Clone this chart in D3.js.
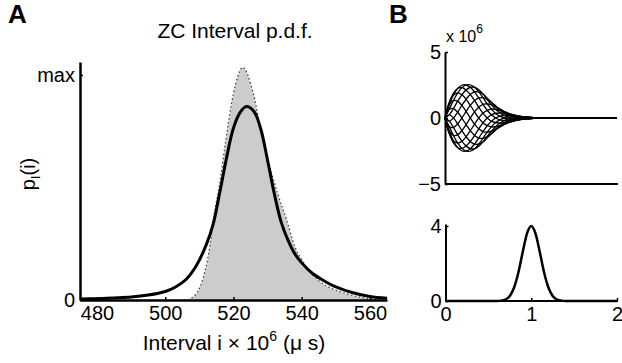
<!DOCTYPE html>
<html>
<head>
<meta charset="utf-8">
<script src="https://cdn.jsdelivr.net/npm/d3@7/dist/d3.min.js"></script>
<style>
  html, body { margin: 0; padding: 0; background: #fff; }
  svg { display: block; font-family: "Liberation Sans", Arial, Helvetica, sans-serif; }
  .ax path.domain { stroke: #000; }
  .ax line { stroke: #000; stroke-width: 1.5; }
  .ax text { fill: #000; }
</style>
</head>
<body>
<svg id="chart" width="622" height="363"></svg>
<script>
// ---------- Panel A data (interval p.d.f., normalised so "max" = 1) ----------
const intervalTicks = [480, 500, 520, 540, 560];
const pdfTickValues = [0, 1];
const pdfTickLabels = ["0", "max"];

// empirical histogram (grey, dotted outline)
const histInterval = [475, 506, 508, 510, 511.7, 513.2, 514.1, 516.1, 517.6, 520, 522.7, 525.8, 528.8, 531.2, 533, 535.6, 538, 540, 542.5, 545.5, 549, 553.3, 557, 561, 565];
const histDensity  = [0, 0, 0.012, 0.052, 0.133, 0.252, 0.356, 0.533, 0.696, 0.918, 1.034, 0.918, 0.696, 0.563, 0.47, 0.356, 0.237, 0.18, 0.125, 0.08, 0.05, 0.027, 0.013, 0.005, 0];

// model p.d.f. (solid black)
const modelInterval = [475, 480, 485, 490, 495, 500, 503, 506, 509, 512, 514, 516, 518, 520, 522, 523.8, 526, 528, 530, 532, 534, 536, 538, 540, 543, 546, 550, 555, 560, 565];
const modelDensity  = [0.004, 0.006, 0.009, 0.013, 0.022, 0.038, 0.058, 0.09, 0.15, 0.245, 0.335, 0.48, 0.635, 0.765, 0.835, 0.86, 0.838, 0.76, 0.62, 0.47, 0.345, 0.265, 0.205, 0.165, 0.12, 0.09, 0.058, 0.032, 0.016, 0.008];

// ---------- Panel B top data (family of kernels, units of 10^6) ----------
const kernelTime = [0, 0.05, 0.1, 0.15, 0.2, 0.25, 0.3, 0.35, 0.4, 0.45, 0.5, 0.55, 0.6, 0.65, 0.7, 0.75, 0.8, 0.85, 0.9, 0.95, 1.0, 1.1, 2.0];
const kernel00 = [0, 1.18, 1.75, 1.90, 1.74, 1.38, 0.91, 0.40, -0.06, -0.41, -0.60, -0.68, -0.63, -0.56, -0.44, -0.33, -0.23, -0.15, -0.10, -0.06, -0.03, 0, 0];
const kernel01 = [0, 1.00, 1.33, 1.26, 0.92, 0.45, -0.05, -0.52, -0.86, -1.05, -1.06, -0.98, -0.81, -0.64, -0.47, -0.32, -0.21, -0.13, -0.07, -0.04, -0.02, 0, 0];
const kernel02 = [0, 0.66, 0.71, 0.42, -0.04, -0.54, -1.01, -1.36, -1.53, -1.53, -1.36, -1.14, -0.86, -0.63, -0.42, -0.26, -0.15, -0.08, -0.04, -0.01, 0.00, 0, 0];
const kernel03 = [0, 0.23, -0.01, -0.47, -0.99, -1.46, -1.81, -1.99, -1.96, -1.78, -1.45, -1.12, -0.78, -0.52, -0.31, -0.17, -0.08, -0.02, 0.01, 0.02, 0.02, 0, 0];
const kernel04 = [0, -0.24, -0.74, -1.30, -1.79, -2.15, -2.33, -2.32, -2.10, -1.75, -1.32, -0.93, -0.58, -0.34, -0.16, -0.05, 0.01, 0.04, 0.05, 0.05, 0.04, 0, 0];
const kernel05 = [0, -0.67, -1.35, -1.93, -2.32, -2.51, -2.50, -2.29, -1.92, -1.46, -0.99, -0.60, -0.29, -0.10, 0.02, 0.08, 0.10, 0.10, 0.08, 0.07, 0.05, 0, 0];
const kernel06 = [0, -1.00, -1.76, -2.26, -2.50, -2.49, -2.29, -1.92, -1.44, -0.95, -0.51, -0.18, 0.04, 0.16, 0.20, 0.20, 0.17, 0.14, 0.10, 0.07, 0.05, 0, 0];
const kernel07 = [0, -1.18, -1.90, -2.25, -2.30, -2.09, -1.73, -1.26, -0.75, -0.29, 0.05, 0.27, 0.36, 0.39, 0.35, 0.28, 0.22, 0.16, 0.11, 0.07, 0.04, 0, 0];
const kernel08 = [0, -1.18, -1.75, -1.90, -1.74, -1.38, -0.91, -0.40, 0.06, 0.41, 0.60, 0.68, 0.63, 0.56, 0.44, 0.33, 0.23, 0.15, 0.10, 0.06, 0.03, 0, 0];
const kernel09 = [0, -1.00, -1.33, -1.26, -0.92, -0.45, 0.05, 0.52, 0.86, 1.05, 1.06, 0.98, 0.81, 0.64, 0.47, 0.32, 0.21, 0.13, 0.07, 0.04, 0.02, 0, 0];
const kernel10 = [0, -0.66, -0.71, -0.42, 0.04, 0.54, 1.01, 1.36, 1.53, 1.53, 1.36, 1.14, 0.86, 0.63, 0.42, 0.26, 0.15, 0.08, 0.04, 0.01, 0.00, 0, 0];
const kernel11 = [0, -0.23, 0.01, 0.47, 0.99, 1.46, 1.81, 1.99, 1.96, 1.78, 1.45, 1.12, 0.78, 0.52, 0.31, 0.17, 0.08, 0.02, -0.01, -0.02, -0.02, 0, 0];
const kernel12 = [0, 0.24, 0.74, 1.30, 1.79, 2.15, 2.33, 2.32, 2.10, 1.75, 1.32, 0.93, 0.58, 0.34, 0.16, 0.05, -0.01, -0.04, -0.05, -0.05, -0.04, 0, 0];
const kernel13 = [0, 0.67, 1.35, 1.93, 2.32, 2.51, 2.50, 2.29, 1.92, 1.46, 0.99, 0.60, 0.29, 0.10, -0.02, -0.08, -0.10, -0.10, -0.08, -0.07, -0.05, 0, 0];
const kernel14 = [0, 1.00, 1.76, 2.26, 2.50, 2.49, 2.29, 1.92, 1.44, 0.95, 0.51, 0.18, -0.04, -0.16, -0.20, -0.20, -0.17, -0.14, -0.10, -0.07, -0.05, 0, 0];
const kernel15 = [0, 1.18, 1.90, 2.25, 2.30, 2.09, 1.73, 1.26, 0.75, 0.29, -0.05, -0.27, -0.36, -0.39, -0.35, -0.28, -0.22, -0.16, -0.11, -0.07, -0.04, 0, 0];
const kernels = [kernel00, kernel01, kernel02, kernel03, kernel04, kernel05, kernel06, kernel07,
                 kernel08, kernel09, kernel10, kernel11, kernel12, kernel13, kernel14, kernel15];
const kernelTickValues = [-5, 0, 5];
const kernelTickLabels = ["\u22125", "0", "5"];

// ---------- Panel B bottom data ----------
const bumpX = [0, 0.5, 0.6, 0.65, 0.7, 0.75, 0.8, 0.85, 0.9, 0.95, 1.0, 1.05, 1.1, 1.15, 1.2, 1.25, 1.3, 1.35, 1.4, 1.5, 2.0];
const bumpY = [0, 0, 0.004, 0.02, 0.08, 0.27, 0.72, 1.52, 2.6, 3.59, 4.0, 3.59, 2.6, 1.52, 0.72, 0.27, 0.08, 0.02, 0.004, 0, 0];
const bumpXTicks = [0, 1, 2];
const bumpYTicks = [0, 4];

// ---------- drawing ----------
const svg = d3.select("#chart");
const FS = 20;

function styleAxis(g, w) {
  g.attr("font-family", null).attr("font-size", null);
  g.select(".domain").attr("stroke-width", w);
  g.selectAll("text").attr("font-size", FS);
}

// Panel A
const xA = d3.scaleLinear().domain([475, 565]).range([80, 387]);
const yA = d3.scaleLinear().domain([0, 1.0578]).range([300, 62]);
const gA = svg.append("g");

const histPts = histInterval.map((v, i) => [v, histDensity[i]]);
gA.append("path")
  .datum(histPts)
  .attr("fill", "#cccccc")
  .attr("stroke", "none")
  .attr("d", d3.area().x(d => xA(d[0])).y0(yA(0)).y1(d => yA(d[1])).curve(d3.curveMonotoneX));
gA.append("path")
  .datum(histPts)
  .attr("fill", "none")
  .attr("stroke", "#333")
  .attr("stroke-width", 1.2)
  .attr("stroke-dasharray", "1.4,2.6")
  .attr("d", d3.line().x(d => xA(d[0])).y(d => yA(d[1])).curve(d3.curveMonotoneX));

gA.append("path")
  .datum(modelInterval.map((v, i) => [v, modelDensity[i]]))
  .attr("fill", "none")
  .attr("stroke", "#000")
  .attr("stroke-width", 3)
  .attr("d", d3.line().x(d => xA(d[0])).y(d => yA(d[1])).curve(d3.curveCatmullRom.alpha(0.5)));

const axA_x = gA.append("g").attr("class", "ax").attr("transform", `translate(0,${yA(0)})`)
  .call(d3.axisBottom(xA).tickValues(intervalTicks).tickSizeInner(-3).tickSizeOuter(0).tickPadding(6).tickFormat(d3.format("d")));
styleAxis(axA_x, 2.5);

const axA_y = gA.append("g").attr("class", "ax").attr("transform", `translate(${xA(475)},0)`)
  .call(d3.axisLeft(yA).tickValues(pdfTickValues).tickSizeInner(-3).tickSizeOuter(0).tickPadding(5)
    .tickFormat((d, i) => pdfTickLabels[i]));
styleAxis(axA_y, 2.5);

svg.append("text").attr("x", 235).attr("y", 38).attr("text-anchor", "middle")
  .attr("font-size", 21).text("ZC Interval p.d.f.");

const xl = svg.append("text").attr("x", 234).attr("y", 350).attr("text-anchor", "middle").attr("font-size", 21);
xl.append("tspan").text("Interval i \u00d7 10");
xl.append("tspan").attr("dy", -9).attr("font-size", 14).text("6");
xl.append("tspan").attr("dy", 9).text(" (\u03bc s)");

const yl = svg.append("text").attr("transform", "translate(35,174) rotate(-90)").attr("text-anchor", "middle").attr("font-size", FS);
yl.append("tspan").text("p");
yl.append("tspan").attr("dy", 5).attr("font-size", 13).text("I");
yl.append("tspan").attr("dy", -5).text("(i)");

svg.append("text").attr("x", 8).attr("y", 23).attr("font-size", 26).attr("font-weight", "bold").text("A");
svg.append("text").attr("x", 389).attr("y", 23).attr("font-size", 26).attr("font-weight", "bold").text("B");

// Panel B top
const xB = d3.scaleLinear().domain([0, 2]).range([445, 617]);
const yB = d3.scaleLinear().domain([-5, 5]).range([184, 52]);
const gB = svg.append("g");
const kLine = d3.line().x((d, i) => xB(kernelTime[i])).y(d => yB(d)).curve(d3.curveCatmullRom.alpha(0.5));
gB.selectAll("path.kernel").data(kernels).enter().append("path")
  .attr("class", "kernel")
  .attr("fill", "none").attr("stroke", "#000").attr("stroke-width", 1.3)
  .attr("d", d => kLine(d));

const axB_x = gB.append("g").attr("class", "ax").attr("transform", `translate(0,${yB(-5)})`)
  .call(d3.axisBottom(xB).tickValues([]).tickSizeOuter(0));
styleAxis(axB_x, 2);
axB_x.select(".domain").attr("d", `M${xB(0)},0H618`);

const axB_y = gB.append("g").attr("class", "ax").attr("transform", `translate(${xB(0)},0)`)
  .call(d3.axisLeft(yB).tickValues(kernelTickValues).tickSizeInner(-3).tickSizeOuter(0).tickPadding(4)
    .tickFormat((d, i) => kernelTickLabels[i]));
styleAxis(axB_y, 2);

const ex = svg.append("text").attr("x", 446).attr("y", 42).attr("font-size", 16);
ex.append("tspan").text("x 10");
ex.append("tspan").attr("dy", -9).attr("font-size", 12).text("6");

// Panel B bottom
const xC = d3.scaleLinear().domain([0, 2]).range([445.5, 617]);
const yC = d3.scaleLinear().domain([0, 4.107]).range([301, 224]);
const gC = svg.append("g");
gC.append("path")
  .datum(bumpX.map((v, i) => [v, bumpY[i]]))
  .attr("fill", "none").attr("stroke", "#000").attr("stroke-width", 2.5)
  .attr("d", d3.line().x(d => xC(d[0])).y(d => yC(d[1])).curve(d3.curveMonotoneX));

const axC_x = gC.append("g").attr("class", "ax").attr("transform", `translate(0,${yC(0)})`)
  .call(d3.axisBottom(xC).tickValues(bumpXTicks).tickSizeInner(-3).tickSizeOuter(0).tickPadding(6).tickFormat(d3.format("d")));
styleAxis(axC_x, 2);
axC_x.select(".domain").attr("d", `M${xC(0)},0H618`);

const axC_y = gC.append("g").attr("class", "ax").attr("transform", `translate(${xC(0)},0)`)
  .call(d3.axisLeft(yC).tickValues(bumpYTicks).tickSizeInner(-3).tickSizeOuter(0).tickPadding(4).tickFormat(d3.format("d")));
styleAxis(axC_y, 2);
</script>
</body>
</html>
